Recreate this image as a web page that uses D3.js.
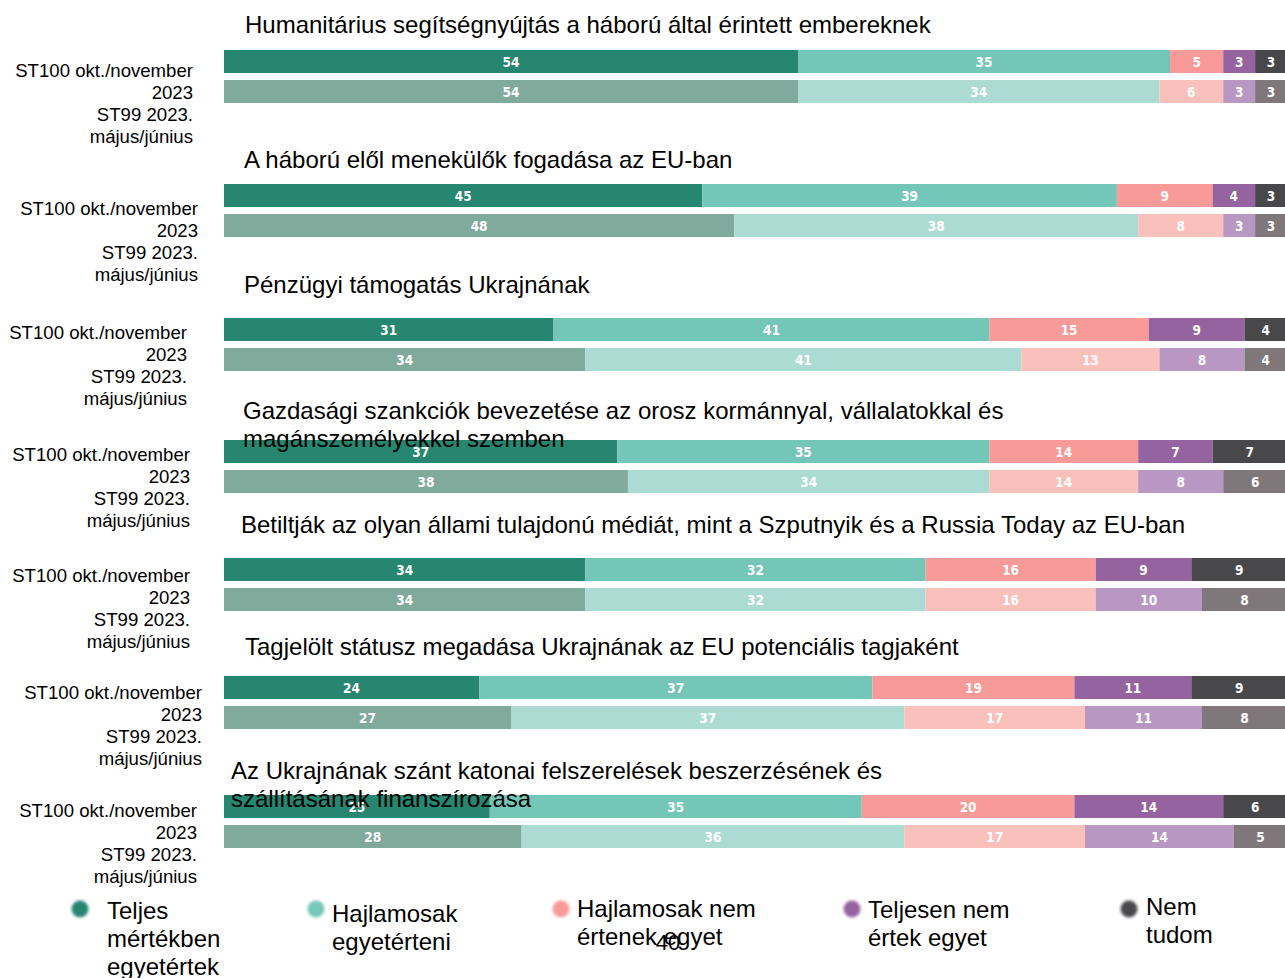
<!DOCTYPE html>
<html>
  <head>
    <meta charset="utf-8" />
    <script src="https://d3js.org/d3.v7.min.js"></script>
    <style>
      body {
        margin: 0;
        background: #fff;
      }
      text {
        font-family: "Liberation Sans", Arial, sans-serif;
      }
      .val {
        font-family: "DejaVu Sans Condensed", "DejaVu Sans", sans-serif;
        font-weight: bold;
        font-stretch: condensed;
      }
    </style>
  </head>
  <body>
    <div id="chart"></div>
    <script>
      // questions (titles may wrap over two lines)
      const questions = [
        ["Humanitárius segítségnyújtás a háború által érintett embereknek"],
        ["A háború elől menekülők fogadása az EU-ban"],
        ["Pénzügyi támogatás Ukrajnának"],
        ["Gazdasági szankciók bevezetése az orosz kormánnyal, vállalatokkal és", "magánszemélyekkel szemben"],
        ["Betiltják az olyan állami tulajdonú médiát, mint a Szputnyik és a Russia Today az EU-ban"],
        ["Tagjelölt státusz megadása Ukrajnának az EU potenciális tagjaként"],
        ["Az Ukrajnának szánt katonai felszerelések beszerzésének és", "szállításának finanszírozása"]
      ];

      const waves = ["ST100 okt./november 2023", "ST99 2023. május/június"];
      const waveLines = [["ST100 okt./november", "2023"], ["ST99 2023.", "május/június"]];

      const answers = [
        "Teljes mértékben egyetértek",
        "Hajlamosak egyetérteni",
        "Hajlamosak nem értenek egyet",
        "Teljesen nem értek egyet",
        "Nem tudom"
      ];

      // values per question: [ST100, ST99], each in answer order
      const st100 = [
        [54, 35, 5, 3, 3],
        [45, 39, 9, 4, 3],
        [31, 41, 15, 9, 4],
        [37, 35, 14, 7, 7],
        [34, 32, 16, 9, 9],
        [24, 37, 19, 11, 9],
        [25, 35, 20, 14, 6]
      ];
      const st99 = [
        [54, 34, 6, 3, 3],
        [48, 38, 8, 3, 3],
        [34, 41, 13, 8, 4],
        [38, 34, 14, 8, 6],
        [34, 32, 16, 10, 8],
        [27, 37, 17, 11, 8],
        [28, 36, 17, 14, 5]
      ];

      const legendLines = [
        ["Teljes", "mértékben", "egyetértek"],
        ["Hajlamosak", "egyetérteni"],
        ["Hajlamosak nem", "értenek egyet"],
        ["Teljesen nem", "értek egyet"],
        ["Nem", "tudom"]
      ];

      const pageNumber = "40";

      // colours
      const darkColors = ["#26866f", "#74c7b8", "#f89a98", "#9563a0", "#48484b"];
      const lightColors = ["#80ab9c", "#acdbd4", "#f9c0bc", "#b897c2", "#7f7779"];

      // layout per question block (top of first bar, title & label anchors)
      const layout = [
        { barY: 50, titleX: 245, titleY: 33, labelX: 193, labelY: 77 },
        { barY: 184, titleX: 244, titleY: 168, labelX: 198, labelY: 215 },
        { barY: 318, titleX: 244, titleY: 293, labelX: 187, labelY: 339 },
        { barY: 440, titleX: 243, titleY: 419, labelX: 190, labelY: 461 },
        { barY: 558, titleX: 241, titleY: 533, labelX: 190, labelY: 582 },
        { barY: 676, titleX: 245, titleY: 655, labelX: 202, labelY: 699 },
        { barY: 795, titleX: 231, titleY: 779, labelX: 197, labelY: 817 }
      ];

      const width = 1285,
        height = 978,
        barH = 23,
        barGap = 7;

      const svg = d3
        .select("#chart")
        .append("svg")
        .attr("width", width)
        .attr("height", height);

      const defs = svg.append("defs");
      defs
        .append("filter")
        .attr("id", "soft")
        .append("feGaussianBlur")
        .attr("stdDeviation", 1.6);

      const x = d3.scaleLinear().domain([0, 100]).range([224, 1287]);

      const stack = d3
        .stack()
        .keys(d3.range(answers.length))
        .value((d, k) => d[k]);

      questions.forEach((q, qi) => {
        const L = layout[qi];
        const rows = [st100[qi], st99[qi]];
        const stacked = stack(rows);

        const y = d3
          .scaleBand()
          .domain(waves)
          .range([L.barY, L.barY + barH * 2 + barGap])
          .paddingInner(barGap / (barH + barGap));

        const g = svg.append("g");

        stacked.forEach((layer, k) => {
          layer.forEach((seg, ri) => {
            const x0 = x(seg[0]),
              x1 = x(seg[1]);
            const yy = y(waves[ri]);
            g.append("rect")
              .attr("x", x0)
              .attr("y", yy)
              .attr("width", x1 - x0)
              .attr("height", y.bandwidth())
              .attr("fill", ri === 0 ? darkColors[k] : lightColors[k]);
            g.append("text")
              .attr("class", "val")
              .attr("x", (x0 + x1) / 2)
              .attr("y", yy + y.bandwidth() / 2 + 5)
              .attr("text-anchor", "middle")
              .attr("font-size", 13.5)
              .attr("fill", "#fff")
              .text(rows[ri][k]);
          });
        });

        // wave labels on the left
        const lbl = g
          .append("text")
          .attr("text-anchor", "end")
          .attr("font-size", 18.6)
          .attr("fill", "#000");
        waveLines.flat().forEach((t, i) => {
          lbl
            .append("tspan")
            .attr("x", L.labelX)
            .attr("y", L.labelY + i * 22)
            .text(t);
        });

        // question title (drawn after bars, overlaps as in the original)
        const tt = g
          .append("text")
          .attr("font-size", 24)
          .attr("fill", "#000");
        q.forEach((t, i) => {
          tt.append("tspan")
            .attr("x", L.titleX)
            .attr("y", L.titleY + i * 28)
            .text(t);
        });
      });

      // legend
      const legendX = [80, 316, 561, 852, 1129];
      const legendTextX = [107, 332, 577, 868, 1146];
      const legendTextY = [919, 922, 917, 918, 915];
      const legend = svg.append("g");
      answers.forEach((a, i) => {
        legend
          .append("circle")
          .attr("cx", legendX[i])
          .attr("cy", 909)
          .attr("r", 8.5)
          .attr("fill", darkColors[i])
          .attr("filter", "url(#soft)");
        const t = legend
          .append("text")
          .attr("font-size", 24)
          .attr("fill", "#000");
        legendLines[i].forEach((s, j) => {
          t.append("tspan")
            .attr("x", legendTextX[i])
            .attr("y", legendTextY[i] + j * 28)
            .text(s);
        });
      });

      svg
        .append("text")
        .attr("x", 668)
        .attr("y", 950)
        .attr("text-anchor", "middle")
        .attr("font-size", 22)
        .attr("fill", "#000")
        .text(pageNumber);
    </script>
  </body>
</html>
